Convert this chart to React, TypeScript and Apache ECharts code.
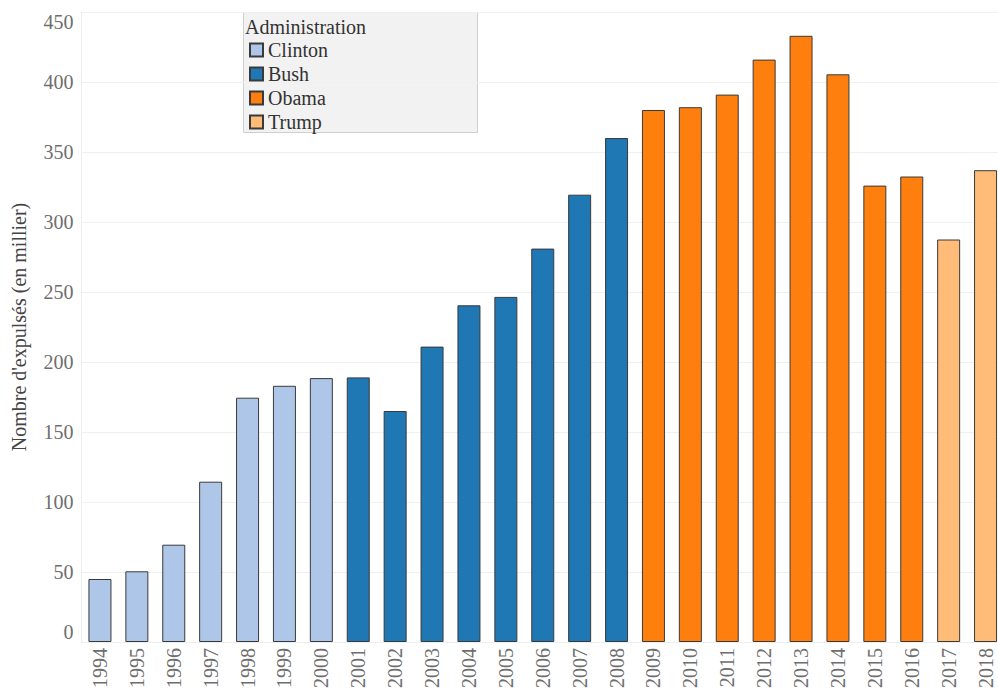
import React, { useEffect, useRef } from "react";
import * as echarts from "echarts";

const years = ["1994","1995","1996","1997","1998","1999","2000","2001","2002","2003","2004","2005","2006","2007","2008","2009","2010","2011","2012","2013","2014","2015","2016","2017","2018"];
const removals = [45, 50.5, 69.5, 114.5, 174.5, 183, 188.5, 189, 165, 211, 240.5, 246.5, 281, 319.5, 360, 380, 382, 391, 416, 433, 405.5, 326, 332.5, 287.5, 337];
const administrations = ["Clinton","Bush","Obama","Trump"];
const adminOfYear = ["Clinton","Clinton","Clinton","Clinton","Clinton","Clinton","Clinton","Bush","Bush","Bush","Bush","Bush","Bush","Bush","Bush","Obama","Obama","Obama","Obama","Obama","Obama","Obama","Obama","Trump","Trump"];
const adminColors = ["#aec7e8", "#1f77b4", "#ff7f0e", "#ffbb78"];
const yTicks = [0, 50, 100, 150, 200, 250, 300, 350, 400, 450];

const FONT = "'Liberation Serif', 'DejaVu Serif', serif";

export default function App() {
  const ref = useRef<HTMLDivElement>(null);
  useEffect(() => {
    document.body.style.margin = "0";
    const chart = echarts.init(ref.current!, null, { renderer: "svg" });
    const series = administrations.map((adm, ai) => ({
      name: adm,
      type: "bar",
      stack: "all",
      barWidth: 23,
      data: removals.map((v, i) => (adminOfYear[i] === adm ? v : null)),
      itemStyle: { color: adminColors[ai], borderColor: "#3a3a3a", borderWidth: 1 },
      emphasis: { disabled: true },
    }));
    chart.setOption({
      animation: false,
      grid: { left: 81.5, right: -6, top: 12, bottom: 48, containLabel: false, outerBoundsMode: "none" },
      graphic: [
        {
          type: "rect",
          shape: { x: 243.5, y: 12.5, width: 234, height: 120 },
          style: { fill: "#f2f2f2", stroke: "#cfcfcf", lineWidth: 1 },
          z: 0,
        },
        {
          type: "text",
          x: 245,
          y: 27,
          style: { text: "Administration", font: `20px ${FONT}`, fill: "#333", textVerticalAlign: "middle" },
          z: 1,
        },
      ],
      legend: {
        data: administrations,
        orient: "vertical",
        left: 249,
        top: 40,
        itemWidth: 13,
        itemHeight: 13,
        itemGap: 4,
        icon: "rect",
        textStyle: { fontFamily: FONT, fontSize: 20, lineHeight: 20, color: "#333" },
        selectedMode: false,
        padding: 0,
        z: 5,
      },
      xAxis: {
        type: "category",
        data: years,
        axisLine: { show: true, lineStyle: { color: "#eeeeee" } },
        axisTick: { show: false },
        axisLabel: {
          rotate: 90,
          fontFamily: FONT,
          fontSize: 20,
          color: "#6e6e6e",
          margin: 6,
          interval: 0,
        },
      },
      yAxis: {
        type: "value",
        min: 0,
        max: 450,
        interval: 50,
        name: "Nombre d'expulsés (en millier)",
        nameLocation: "middle",
        nameGap: 53,
        nameTextStyle: { fontFamily: FONT, fontSize: 20, color: "#444" },
        axisLine: { show: true, lineStyle: { color: "#eeeeee" } },
        axisTick: { show: false },
        axisLabel: {
          fontFamily: FONT,
          fontSize: 20,
          color: "#6e6e6e",
          margin: 8,
          verticalAlignMinLabel: "bottom",
          verticalAlignMaxLabel: "top",
          formatter: (v: number) => (yTicks.includes(v) ? String(v) : ""),
        },
        splitLine: { show: true, lineStyle: { color: "#f0f0f0" } },
      },
      series,
    });
    return () => chart.dispose();
  }, []);
  return <div ref={ref} style={{ width: 998, height: 690 }} />;
}
